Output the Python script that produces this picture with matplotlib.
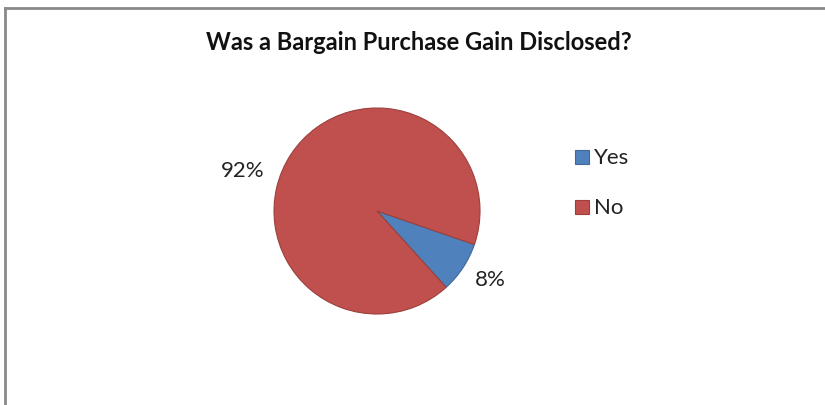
import numpy as np
import matplotlib.pyplot as plt
from matplotlib.patches import Rectangle
from matplotlib.lines import Line2D

title = "Was a Bargain Purchase Gain Disclosed?"
labels = ["Yes", "No"]
shares = [8, 92]
colors = ["#4F81BD", "#C0504D"]
edges = ["#3f6a9c", "#9c3f3c"]

plt.rcParams['font.family'] = ['Lato', 'DejaVu Sans']

W, H = 825, 406
fig = plt.figure(figsize=(W / 100, H / 100), dpi=100)

# chart frame (top and left edges only visible)
fig.add_artist(Line2D([5 / W, 1], [1 - 9 / H, 1 - 9 / H], color="#8a8a8a", lw=2))
fig.add_artist(Line2D([5 / W, 5 / W], [0, 1 - 9 / H], color="#8a8a8a", lw=2))

fig.text(419 / W, 1 - 43 / H, title, ha="center", va="center",
         fontsize=17, fontweight="bold", color="#111111")

cx, cy, r = 377, H - 212, 103
ax = fig.add_axes([(cx - r) / W, (cy - r) / H, 2 * r / W, 2 * r / H])
wedges, _ = ax.pie(shares, colors=colors, startangle=-19, counterclock=False,
                   wedgeprops=dict(linewidth=0.8))
for w, ec in zip(wedges, edges):
    w.set_edgecolor(ec)
ax.set_xlim(-1, 1)
ax.set_ylim(-1, 1)
ax.axis("off")

# percentage labels
pct_pos = {"Yes": (-31, 1.28), "No": (163, 1.36)}
for lab, val in zip(labels, shares):
    ang, dist = pct_pos[lab]
    a = np.deg2rad(ang)
    ax.text(dist * np.cos(a), dist * np.sin(a), f"{val}%", ha="center", va="center",
            fontsize=16, color="#222222", clip_on=False)

# legend
for i, (lab, c, ec) in enumerate(zip(labels, colors, edges)):
    y = 1 - (158 + 50 * i) / H
    fig.add_artist(Rectangle((575 / W, y - 7 / H), 14 / W, 14 / H,
                             facecolor=c, edgecolor=ec, lw=0.8))
    fig.text(594 / W, y, lab, ha="left", va="center", fontsize=16, color="#222222")

fig.savefig("out.png", dpi=100, facecolor="white")
